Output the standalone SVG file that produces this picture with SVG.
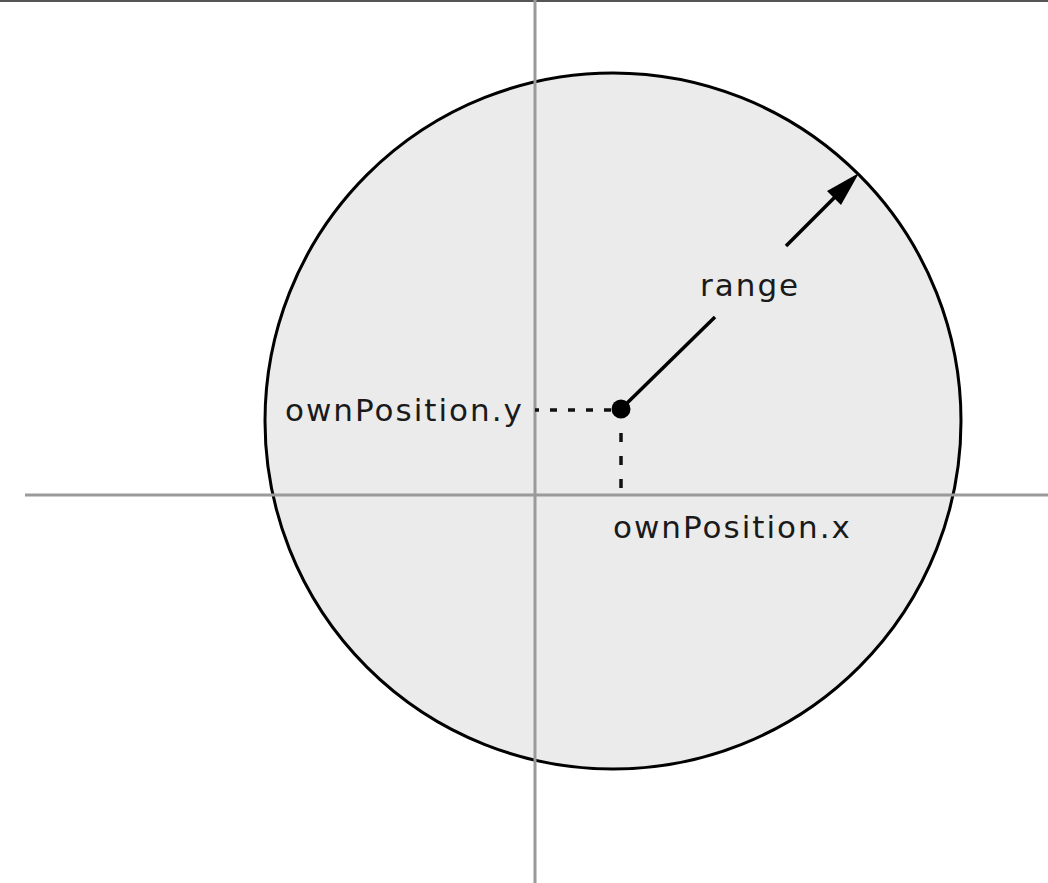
<svg xmlns="http://www.w3.org/2000/svg" width="1048" height="883" viewBox="0 0 1048 883">
<style>
.axis{stroke:#9a9a9a;stroke-width:3;fill:none}
.lbl{font-family:"DejaVu Sans","Liberation Sans",sans-serif;font-size:31px;fill:#1a1a1a;letter-spacing:2px}
.dot{stroke:#111;stroke-width:3.5;fill:none}
</style>
<rect width="1048" height="883" fill="#fff"/>
<line x1="0" y1="1" x2="1048" y2="1" stroke="#555" stroke-width="2"/>
<g id="circle">
<circle cx="613" cy="421" r="348" fill="#ebebeb" stroke="#000" stroke-width="3"/>
</g>
<g id="axes">
<line class="axis" x1="535" y1="0" x2="535" y2="883"/>
<line class="axis" x1="25" y1="495" x2="1048" y2="495"/>
</g>
<g id="connectors">
<line class="dot" x1="535" y1="410" x2="614" y2="410" stroke-dasharray="7 11" stroke-dashoffset="3"/>
<line class="dot" x1="621" y1="433" x2="621" y2="490" stroke-dasharray="9 14"/>
<line x1="621" y1="409" x2="715" y2="317" stroke="#000" stroke-width="3.5"/>
<path d="M786,246 L840,192" stroke="#000" stroke-width="3.5" fill="none"/>
<path d="M859,173 L827,191 L841,205 z" fill="#000"/>
</g>
<g id="center">
<circle cx="621" cy="409" r="9.5" fill="#000"/>
</g>
<g id="labels">
<text class="lbl" x="285" y="421">ownPosition.y</text>
<text class="lbl" x="613" y="538">ownPosition.x</text>
<text class="lbl" x="700" y="296">range</text>
</g>
</svg>
